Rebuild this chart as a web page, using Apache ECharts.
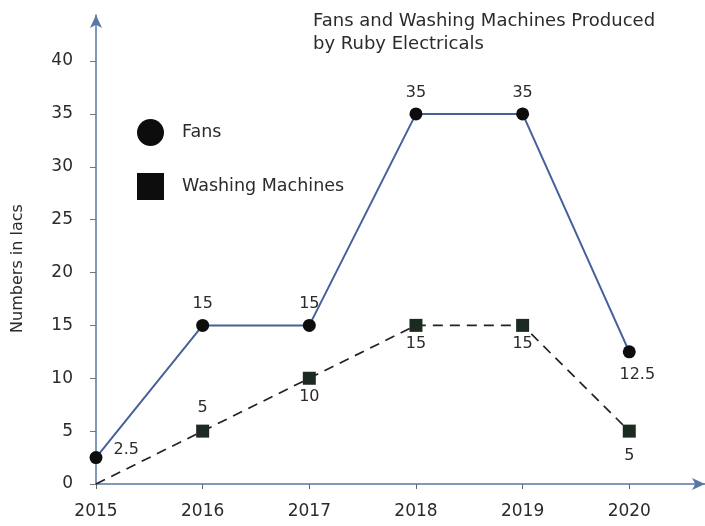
<!DOCTYPE html>
<html>
<head>
<meta charset="utf-8">
<script src="https://cdn.jsdelivr.net/npm/echarts@6/dist/echarts.min.js"></script>
<style>
  html, body { margin: 0; padding: 0; background: #fff; }
  #chart { width: 705px; height: 526px; }
</style>
</head>
<body>
<div id="chart"></div>
<script>
// data
const years = [2015, 2016, 2017, 2018, 2019, 2020]
const fans = [2.5, 15, 15, 35, 35, 12.5]
const washing = [0, 5, 10, 15, 15, 5]
const yTicks = [0, 5, 10, 15, 20, 25, 30, 35, 40]

// where each value label sits
const fansLabelPos = [
  { position: 'right', offset: [4, -8] },
  { position: 'top' }, { position: 'top' }, { position: 'top' }, { position: 'top' },
  { position: 'bottom', offset: [8, 2] }
]
const washLabelPos = [
  null,
  { position: 'top', distance: 9 },
  { position: 'bottom', distance: 4 }, { position: 'bottom', distance: 4 }, { position: 'bottom', distance: 4 },
  { position: 'bottom', distance: 10 }
]

const axisColor = '#5876a6'
const textColor = '#2b2b2b'
const font = 'DejaVu Sans, sans-serif'

const chart = echarts.init(document.getElementById('chart'))

const fansData = years.map((y, i) => ({
  value: [y, fans[i]],
  label: Object.assign({ show: true }, fansLabelPos[i])
}))
const washData = years.map((y, i) => {
  if (!washLabelPos[i]) {
    return { value: [y, washing[i]], symbol: 'none', label: { show: false } }
  }
  return { value: [y, washing[i]], label: Object.assign({ show: true }, washLabelPos[i]) }
})

const option = {
  animation: false,
  textStyle: { fontFamily: font },
  title: {
    text: 'Fans and Washing Machines Produced\nby Ruby Electricals',
    left: 308,
    top: 5,
    textStyle: { fontSize: 18, fontWeight: 'normal', color: textColor, lineHeight: 23, fontFamily: font }
  },
  legend: {
    orient: 'vertical',
    left: 132,
    top: 114,
    itemWidth: 27,
    itemHeight: 27,
    itemGap: 27,
    textStyle: { fontSize: 17.5, color: textColor, padding: [0, 0, 0, 13], fontFamily: font },
    data: [
      { name: 'Fans', icon: 'circle', itemStyle: { color: '#0d0d0d' } },
      { name: 'Washing Machines', icon: 'rect', itemStyle: { color: '#0d0d0d' } }
    ]
  },
  grid: { left: 96, right: 0, top: 15, bottom: 42, outerBoundsMode: 'none' },
  xAxis: {
    type: 'value',
    min: 2015,
    max: 2020.71,
    splitLine: { show: false },
    axisLine: {
      onZero: false,
      lineStyle: { color: axisColor, width: 1.5 },
      symbol: ['none', 'arrow'],
      symbolSize: [9, 13]
    },
    axisTick: { customValues: years, length: 5, lineStyle: { color: '#666' } },
    axisLabel: {
      customValues: years,
      formatter: v => String(v),
      fontSize: 17,
      color: textColor,
      margin: 19,
      fontFamily: font
    }
  },
  yAxis: {
    type: 'value',
    min: 0,
    max: 44.35,
    name: 'Numbers in lacs',
    nameLocation: 'middle',
    nameRotate: 90,
    nameGap: 70,
    nameTextStyle: { fontSize: 16, color: textColor, padding: [0, 38, 0, 0], fontFamily: font },
    splitLine: { show: false },
    axisLine: {
      show: true,
      lineStyle: { color: axisColor, width: 1.5 },
      symbol: ['none', 'arrow'],
      symbolSize: [9, 13]
    },
    axisTick: { show: true, customValues: yTicks, length: 6, lineStyle: { color: '#777' } },
    axisLabel: {
      customValues: yTicks,
      fontSize: 17,
      color: textColor,
      margin: 23,
      fontFamily: font
    }
  },
  series: [
    {
      name: 'Fans',
      type: 'line',
      data: fansData,
      symbol: 'circle',
      symbolSize: 13,
      itemStyle: { color: '#0d0d0d' },
      lineStyle: { color: '#45609a', width: 2 },
      label: { fontSize: 16, color: textColor, distance: 7, fontFamily: font },
      z: 3
    },
    {
      name: 'Washing Machines',
      type: 'line',
      data: washData,
      symbol: 'rect',
      symbolSize: 13,
      itemStyle: { color: '#1c2a22' },
      lineStyle: { color: '#222', width: 1.7, type: [10, 7] },
      label: { fontSize: 16, color: textColor, distance: 6, fontFamily: font },
      z: 2
    }
  ]
}

chart.setOption(option)
</script>
</body>
</html>
